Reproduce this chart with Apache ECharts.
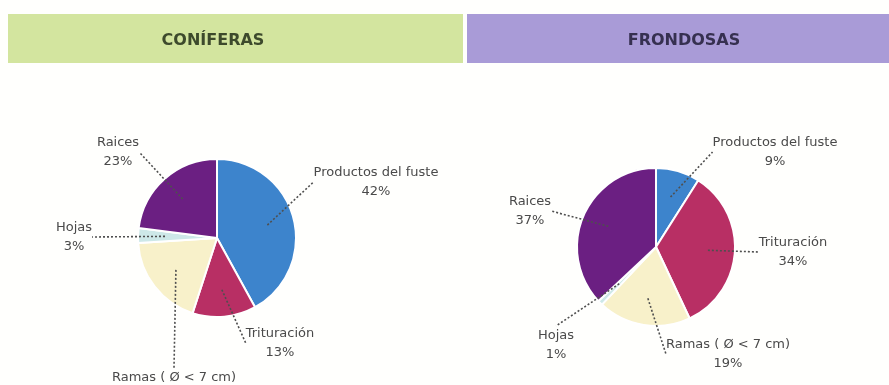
<!DOCTYPE html>
<html>
<head>
<meta charset="utf-8">
<title>Distribución de biomasa: coníferas y frondosas</title>
<script src="https://cdn.jsdelivr.net/npm/echarts@6/dist/echarts.min.js"></script>
<style>
  html, body { margin: 0; padding: 0; background: #fffffd; }
  #chart { width: 889px; height: 385px; }
</style>
</head>
<body>
<div id="chart"></div>
<script>
// Biomass fractions (%) for each forest type
const categories = ['Productos del fuste', 'Trituración', 'Ramas ( Ø < 7 cm)', 'Hojas', 'Raices'];
const coniferasValues = [42, 13, 19, 3, 23];
const frondosasValues = [9, 34, 19, 1, 37];
const panelTitles = ['CONÍFERAS', 'FRONDOSAS'];

const sliceColors = ['#3d84cc', '#b82f64', '#f8f1ca', '#cde8e8', '#6b1f82'];

// Where each label sits around its pie (per panel, per category)
const labelAnchors = [
  [[376, 182], [280, 343], [174, 387], [74, 237], [118, 152]],
  [[775, 152], [793, 252], [728, 354], [556, 345], [530, 211]]
];

const pieCenters = [[217, 238], [656, 247]];
const pieRadius = 79;

function toData(values) {
  return categories.map((name, i) => ({ name, value: values[i] }));
}

const chart = echarts.init(document.getElementById('chart'), null, { renderer: 'canvas' });

const textStyle = {
  fontFamily: 'DejaVu Sans',
  fontSize: 13,
  color: '#4a4a4a',
  lineHeight: 19
};

function basePie(values, panel) {
  return {
    type: 'pie',
    center: pieCenters[panel],
    radius: pieRadius,
    startAngle: 90,
    clockwise: true,
    silent: true,
    animation: false,
    label: { show: false },
    labelLine: { show: false },
    itemStyle: {
      borderColor: '#ffffff',
      borderWidth: 2,
      color: (p) => sliceColors[p.dataIndex]
    },
    data: toData(values)
  };
}

// Transparent inner ring that carries labels, so leader lines reach into the slices
function labelPie(values, panel) {
  return {
    type: 'pie',
    center: pieCenters[panel],
    radius: 52,
    startAngle: 90,
    clockwise: true,
    silent: true,
    animation: false,
    z: 5,
    itemStyle: { color: 'rgba(0,0,0,0)', borderWidth: 0 },
    label: Object.assign({
      show: true,
      position: 'outside',
      formatter: '{b}\n{c}%',
      align: 'center'
    }, textStyle),
    labelLine: {
      show: true,
      length: 10,
      length2: 0,
      smooth: false,
      lineStyle: { color: '#4f4f4f', width: 1.6, type: [2, 2] }
    },
    labelLayout: (params) => {
      const a = labelAnchors[panel][params.dataIndex];
      return { x: a[0], y: a[1], align: 'center', verticalAlign: 'middle' };
    },
    data: toData(values)
  };
}

chart.setOption({
  backgroundColor: '#fffffd',
  animation: false,
  graphic: [
    { type: 'rect', shape: { x: 8, y: 14, width: 455, height: 49 }, style: { fill: '#d3e59f' }, silent: true },
    { type: 'rect', shape: { x: 467, y: 14, width: 422, height: 49 }, style: { fill: '#a99bd7' }, silent: true },
    { type: 'text', x: 213, y: 41, style: { text: panelTitles[0], fill: '#3d4a2c', font: 'bold 16px "DejaVu Sans"', align: 'center', verticalAlign: 'middle' }, silent: true },
    { type: 'text', x: 684, y: 41, style: { text: panelTitles[1], fill: '#363050', font: 'bold 16px "DejaVu Sans"', align: 'center', verticalAlign: 'middle' }, silent: true }
  ],
  series: [
    basePie(coniferasValues, 0),
    basePie(frondosasValues, 1),
    labelPie(coniferasValues, 0),
    labelPie(frondosasValues, 1)
  ]
});
</script>
</body>
</html>
